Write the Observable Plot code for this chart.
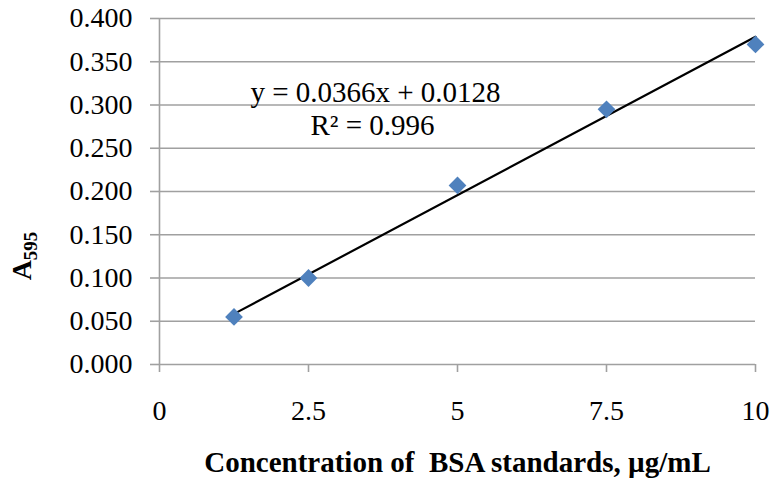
<!DOCTYPE html>
<html><head><meta charset="utf-8">
<script src="https://cdn.jsdelivr.net/npm/d3@7"></script>
<script src="https://cdn.jsdelivr.net/npm/@observablehq/plot@0.6"></script>
<style>body{margin:0;background:#fff} svg text{font-family:"Liberation Serif","Times New Roman",serif !important; white-space:pre;}</style>
</head><body><div id="chart"></div>
<script>
const concentration = [1.25, 2.5, 5, 7.5, 10];
const absorbance = [0.055, 0.100, 0.207, 0.295, 0.370];
const slope = 0.0366;
const intercept = 0.0128;
const equationLabel = "y = 0.0366x + 0.0128";
const r2Label = "R² = 0.996";
const xTicks = [0, 2.5, 5, 7.5, 10];
const yTicks = [0, 0.05, 0.1, 0.15, 0.2, 0.25, 0.3, 0.35, 0.4];
const xTitle = "Concentration of\u00a0 BSA standards, µg/mL";
const yTitleMain = "A";
const yTitleSub = "595";

const points = concentration.map((c, i) => ({c, a: absorbance[i]}));
const trend = d3.extent(concentration).map(c => ({c, a: slope * c + intercept}));

const grid = "#a0a0a0";
const font = '"Liberation Serif", "Times New Roman", serif';

const chart = Plot.plot({
  width: 770, height: 481,
  marginLeft: 159, marginRight: 15, marginTop: 18, marginBottom: 117,
  style: {fontFamily: font, fontSize: "28px", color: "#000", background: "#fff", overflow: "visible"},
  x: {domain: [0, 10]},
  y: {domain: [0, 0.4]},
  marks: [
    Plot.ruleY(yTicks, {stroke: grid, strokeWidth: 1.6}),
    Plot.ruleX([0], {stroke: grid, strokeWidth: 1.6}),
    Plot.axisY({ticks: yTicks, tickFormat: d3.format(".3f"), tickSize: 9, tickPadding: 18,
      stroke: grid, strokeWidth: 1.6, fill: "#000", fontSize: 28, fontFamily: font, label: null}),
    Plot.axisX({ticks: xTicks, tickFormat: d => String(d), tickSize: 8, tickPadding: 28,
      stroke: grid, strokeWidth: 1.6, fill: "#000", fontSize: 28, fontFamily: font, label: null}),
    Plot.line(trend, {x: "c", y: "a", stroke: "#000", strokeWidth: 2.2}),
    Plot.dot(points, {x: "c", y: "a", symbol: "diamond2", r: 8, fill: "#4f81bd", stroke: "none"}),
    Plot.text([equationLabel], {frameAnchor: "top-left", dx: 216, dy: 83, textAnchor: "middle", lineAnchor: "bottom", fontSize: 29, fontFamily: font, fill: "#000"}),
    Plot.text([r2Label], {frameAnchor: "top-left", dx: 213, dy: 116, textAnchor: "middle", lineAnchor: "bottom", fontSize: 29, fontFamily: font, fill: "#000"}),
    Plot.text([xTitle], {frameAnchor: "bottom", dy: 107, lineAnchor: "bottom", fontSize: 29, fontWeight: "bold", fontFamily: font, fill: "#000"})
  ]
});

const svg = d3.select(chart).attr("font-family", font);
const yt = svg.append("text")
  .attr("transform", "translate(31,256) rotate(-90)")
  .attr("text-anchor", "middle")
  .attr("font-family", font)
  .attr("font-weight", "bold")
  .attr("font-size", 28)
  .attr("fill", "#000");
yt.append("tspan").text(yTitleMain);
yt.append("tspan").attr("font-size", 19).attr("dy", 6).text(yTitleSub);

document.getElementById("chart").appendChild(chart);
</script>
</body></html>
